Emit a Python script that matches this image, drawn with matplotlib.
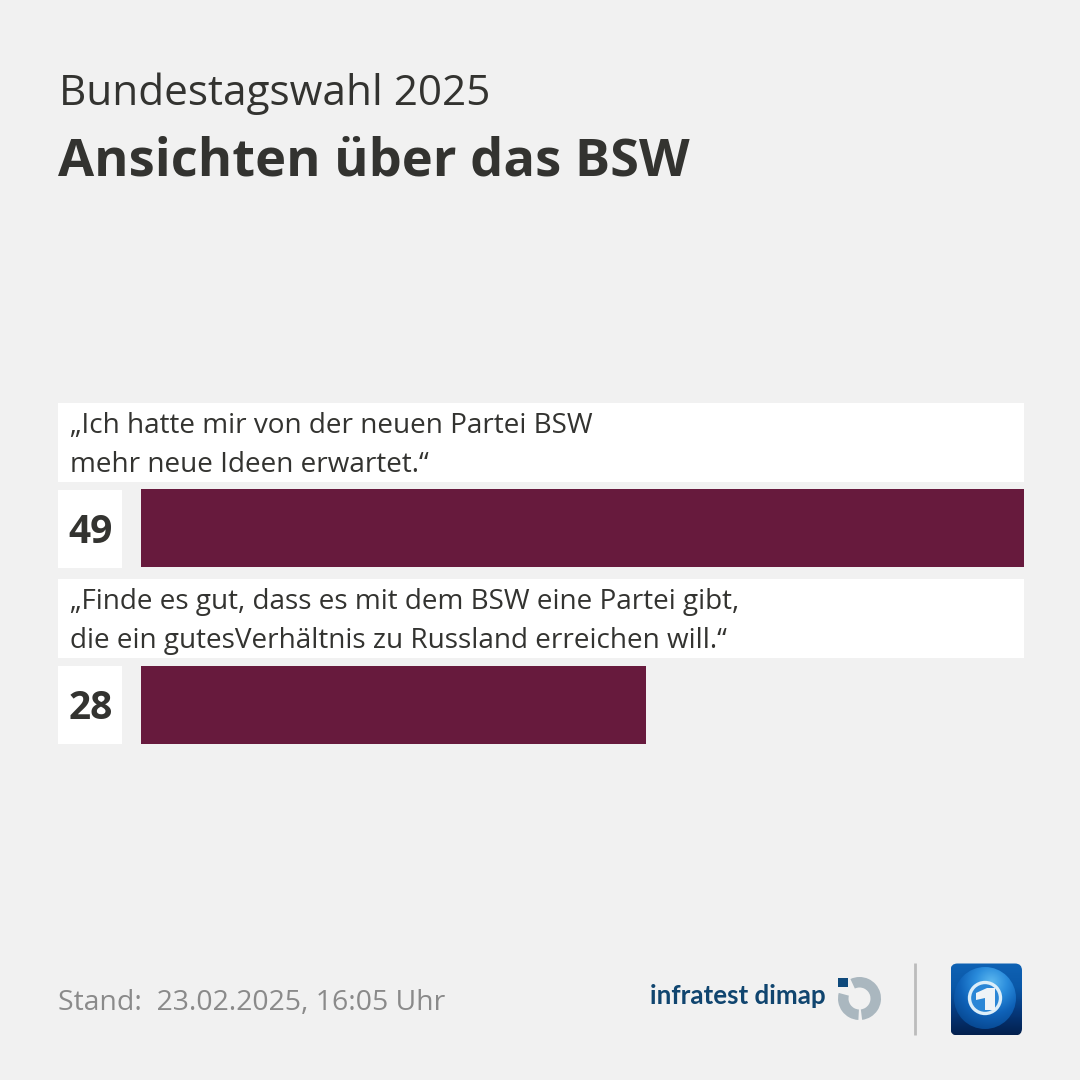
import numpy as np
import matplotlib
matplotlib.use("Agg")
import matplotlib.pyplot as plt
from matplotlib.colors import LinearSegmentedColormap
from matplotlib.patches import Rectangle, Wedge, Circle, FancyBboxPatch, Polygon

# Data
statements = [
    "„Ich hatte mir von der neuen Partei BSW\nmehr neue Ideen erwartet.“",
    "„Finde es gut, dass es mit dem BSW eine Partei gibt,\ndie ein gutesVerhältnis zu Russland erreichen will.“",
]
values = [49, 28]
title = "Ansichten über das BSW"
subtitle = "Bundestagswahl 2025"
stand = "Stand:  23.02.2025, 16:05 Uhr"

bg = "#f1f1f1"
bar_color = "#671a3d"
text_color = "#333330"

plt.rcParams["font.family"] = ["Open Sans", "DejaVu Sans"]

fig = plt.figure(figsize=(10.8, 10.8), dpi=100, facecolor=bg)

# overlay in pixel coordinates for the boxes, text and logos
px = fig.add_axes([0, 0, 1, 1])
px.set_xlim(0, 1080)
px.set_ylim(1080, 0)
px.axis("off")

px.text(59, 105, subtitle, fontsize=30.4, color=text_color, va="baseline")
px.text(58, 176, title, fontsize=37.7, fontweight="bold", color=text_color, va="baseline")

# rows
row_tops = [403, 579]
for top, label, val in zip(row_tops, statements, values):
    px.add_patch(Rectangle((58, top), 966, 79, fc="white", ec="none"))
    px.add_patch(Rectangle((58, top + 86.5), 64, 78.5, fc="white", ec="none"))
    line1, line2 = label.split("\n")
    px.text(70, top + 30, line1, fontsize=20.05, color=text_color, va="baseline")
    px.text(70, top + 69, line2, fontsize=20.05, color=text_color, va="baseline")
    px.text(90.5, top + 140, str(val), fontsize=28, fontweight="bold",
            color=text_color, ha="center", va="baseline")

# bars on their own axes, 49 fills the whole width
ax = fig.add_axes([141 / 1080, 1 - 744 / 1080, 883 / 1080, 255 / 1080])
ax.patch.set_alpha(0)
ax.barh([0, 1], values, height=0.442, color=bar_color)
ax.set_xlim(0, max(values))
ax.set_ylim(1.221, -0.221)
ax.axis("off")

# footer
px.text(58, 1010, stand, fontsize=20.4, color="#8a8a8a", va="baseline")
px.text(650, 1004, "infratest dimap", fontsize=18.6, fontweight="bold",
        family="Lato", color="#10456f", va="baseline")

# infratest dimap logo (y axis is flipped so angles run clockwise)
ring = "#aab7bf"
px.add_patch(Wedge((859.5, 998.5), 21.5, -115, 83, width=10.5, fc=ring, ec="none"))
px.add_patch(Wedge((859.5, 998.5), 21.5, 93, 195, width=10.5, fc=ring, ec="none"))
px.add_patch(Rectangle((838, 977.5), 9.5, 9.5, fc="#0f4a7c", ec="none"))

px.plot([915, 915], [963, 1035], color="#bcbcbc", lw=2, solid_capstyle="butt")

# tagesschau icon
x0, y0, x1, y1 = 950.5, 963.5, 1022, 1035.5
grad = np.linspace(0, 1, 64).reshape(-1, 1)
cmap = LinearSegmentedColormap.from_list(
    "icon", ["#0f62b4", "#0a58a8", "#06397c", "#03204f"])
im = px.imshow(grad, extent=(x0, x1, y1, y0), cmap=cmap, aspect="auto", zorder=2)
clip = FancyBboxPatch((x0 + 7, y0 + 7), x1 - x0 - 14, y1 - y0 - 14,
                      boxstyle="round,pad=7", fc="none", ec="none",
                      transform=px.transData)
px.add_patch(clip)
im.set_clip_path(clip)

# globe with a soft highlight towards the upper right
cx, cy = 985, 998
yy, xx = np.mgrid[-1:1:96j, -1:1:96j]
shade = np.clip(np.hypot(xx - 0.2, yy + 0.5) / 1.5, 0, 1)
globe_cmap = LinearSegmentedColormap.from_list(
    "globe", ["#5db8ef", "#2a8cdc", "#0f62b8", "#084a94"])
globe = px.imshow(shade, extent=(cx - 32, cx + 32, cy + 32, cy - 32),
                  cmap=globe_cmap, aspect="auto", zorder=3)
disc = Circle((cx, cy), 31, fc="none", ec="none", transform=px.transData)
px.add_patch(disc)
globe.set_clip_path(disc)

px.add_patch(Circle((cx, cy), 15.5, fc="#2a86d6", ec="#dceef9", lw=2.4, zorder=4))
px.add_patch(Polygon([(976, 993), (987, 988), (995, 988), (995, 1010), (985, 1010),
                      (985, 998), (976, 1000)], fc="#eef3f7", ec="none", zorder=5))
px.set_xlim(0, 1080)
px.set_ylim(1080, 0)

fig.savefig("out.png", dpi=100, facecolor=bg)
